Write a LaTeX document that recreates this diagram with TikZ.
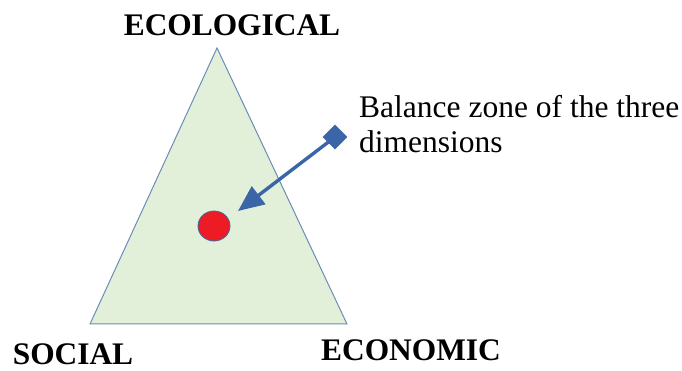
\documentclass[tikz,border=0pt]{standalone}
\usepackage{fontspec}
\setmainfont{Liberation Serif}
\usetikzlibrary{arrows.meta,shapes.geometric}
\definecolor{trifill}{HTML}{E2EFD9}
\definecolor{triedge}{HTML}{6A8DB8}
\definecolor{arrowblue}{HTML}{3A66A7}
\definecolor{dotred}{HTML}{ED1C24}
\tikzset{
  lbl/.style={font=\fontsize{31.4}{34}\selectfont\bfseries, inner sep=0pt},
  note/.style={font=\fontsize{31.5}{35}\selectfont, inner sep=0pt, align=left, anchor=base west},
}
\begin{document}
\begin{tikzpicture}[x=1pt,y=1pt]
\useasboundingbox (0,0) rectangle (682,371);
\coordinate (A) at (217,323);
\coordinate (B) at (90,47);
\coordinate (C) at (347,47);
\draw[triedge, fill=trifill, line width=1pt, line join=miter] (A) -- (B) -- (C) -- cycle;
\node[ellipse, draw=arrowblue, fill=dotred, line width=0.8pt, minimum width=32pt, minimum height=30pt, inner sep=0pt] (dot) at (214,145) {};
\node[diamond, fill=arrowblue, minimum width=25pt, minimum height=25pt, inner sep=0pt] (dia) at (335,234) {};
\coordinate (tip) at (238,160);
\draw[arrowblue, line width=3.4pt, -{Triangle[length=26pt,width=22pt]}] (dia.center) -- (tip);
\node[note] (txt) at (359,218) {Balance zone of the three\\dimensions};
\node[lbl] (eco) at (232,346) {ECOLOGICAL};
\node[lbl] (soc) at (73,17) {SOCIAL};
\node[lbl] (econ) at (411,21) {ECONOMIC};
\end{tikzpicture}
\end{document}
